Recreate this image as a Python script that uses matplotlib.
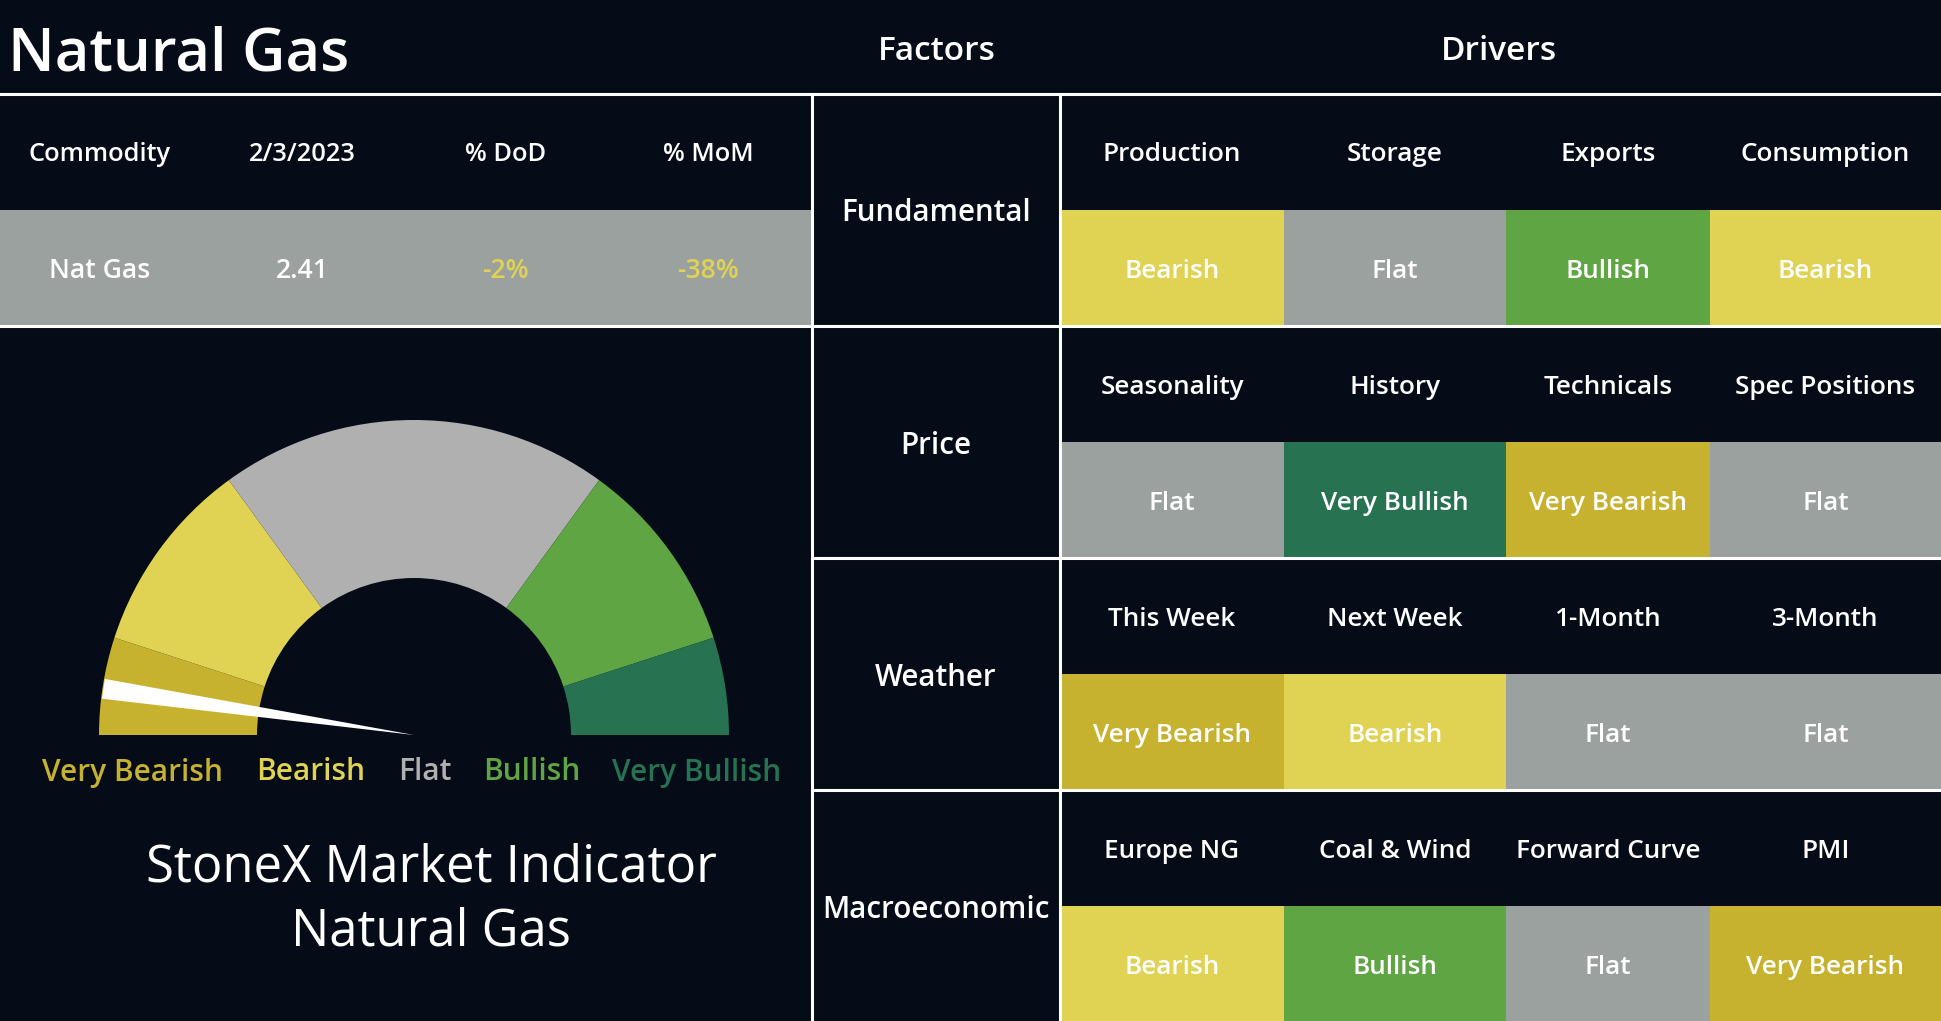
import matplotlib
matplotlib.use("Agg")
import matplotlib.pyplot as plt
from matplotlib.patches import Rectangle, Wedge, Polygon
import numpy as np

plt.rcParams['font.family'] = ['Open Sans', 'DejaVu Sans']

# ---------------- data ----------------
title = "Natural Gas"
commodity_headers = ["Commodity", "2/3/2023", "% DoD", "% MoM"]
commodity_values = ["Nat Gas", "2.41", "-2%", "-38%"]

factors = ["Fundamental", "Price", "Weather", "Macroeconomic"]
drivers = [
    ["Production", "Storage", "Exports", "Consumption"],
    ["Seasonality", "History", "Technicals", "Spec Positions"],
    ["This Week", "Next Week", "1-Month", "3-Month"],
    ["Europe NG", "Coal & Wind", "Forward Curve", "PMI"],
]
signals = [
    ["Bearish", "Flat", "Bullish", "Bearish"],
    ["Flat", "Very Bullish", "Very Bearish", "Flat"],
    ["Very Bearish", "Bearish", "Flat", "Flat"],
    ["Bearish", "Bullish", "Flat", "Very Bearish"],
]

gauge_labels = ["Very Bearish", "Bearish", "Flat", "Bullish", "Very Bullish"]
gauge_sizes = [1, 2, 4, 2, 1]
needle_value = 0.47   # on the 0..10 gauge scale

# ---------------- styles ----------------
BG = "#050c18"
cell_colors = {"Very Bearish": "#c6b22e", "Bearish": "#e0d353", "Flat": "#9aa19f",
               "Bullish": "#5fa544", "Very Bullish": "#277351"}
gauge_colors = ["#c6b22e", "#e0d353", "#b0b0b0", "#5fa544", "#277351"]
label_colors = ["#c6b22e", "#e0d353", "#b0b0b0", "#5fa544", "#277351"]

W, H = 1941, 1021
fig = plt.figure(figsize=(W / 100, H / 100), dpi=100, facecolor=BG)
ax = fig.add_axes([0, 0, 1, 1])
ax.set_xlim(0, W)
ax.set_ylim(0, H)
ax.axis("off")
ax.set_facecolor(BG)

def Y(y):
    return H - y

def rect(x0, y0, x1, y1, color):
    ax.add_patch(Rectangle((x0, Y(y1)), x1 - x0, y1 - y0, facecolor=color, edgecolor="none", zorder=1))

def txt(x, y, s, size, color="white", weight="semibold", ha="center"):
    ax.text(x, Y(y), s, fontsize=size, color=color, fontweight=weight, ha=ha, va="center_baseline", zorder=5)

# title row
txt(8, 48, title, 43, weight="semibold", ha="left")
txt(937, 48, "Factors", 24)
txt(1499, 48, "Drivers", 24)

# left commodity table
left_w = 812
col_w = left_w / 4
rect(0, 210, left_w, 326, "#9aa19f")
for i, (h, v) in enumerate(zip(commodity_headers, commodity_values)):
    cx = col_w * (i + 0.5)
    txt(cx - 2, 152, h, 18.3)
    vc = "white"
    if v.startswith("-") and i >= 2:
        vc = "#e0d353"
    txt(cx - 2, 268, v, 19.2, color=vc)

# right table
row_top = [94, 326, 558, 790]
bx = [1060, 1284, 1506, 1710, 1941]
for r, fac in enumerate(factors):
    y0 = row_top[r]
    txt(936, y0 + 116, fac, 21.3)
    for c in range(4):
        x0, x1 = bx[c], bx[c + 1]
        cx = (x0 + x1) / 2
        txt(cx, y0 + 58, drivers[r][c], 18.8)
        rect(x0, y0 + 116, x1, y0 + 232, cell_colors[signals[r][c]])
        txt(cx, y0 + 174, signals[r][c], 18.8)

# grid lines
lw = 2.2
ax.plot([0, W], [Y(94), Y(94)], color="white", lw=lw, zorder=6)
ax.plot([0, W], [Y(326), Y(326)], color="white", lw=lw, zorder=6)
for yy in [558, 790]:
    ax.plot([812, W], [Y(yy), Y(yy)], color="white", lw=lw, zorder=6)
for xx in [812, 1060]:
    ax.plot([xx, xx], [Y(94), 0], color="white", lw=lw, zorder=6)

# gauge
cx, cy = 414, Y(735)
R, r_in = 315, 157
total = sum(gauge_sizes)
start = 180.0
for size, col in zip(gauge_sizes, gauge_colors):
    span = 180.0 * size / total
    ax.add_patch(Wedge((cx, cy), R, start - span, start, width=R - r_in,
                       facecolor=col, edgecolor="none", zorder=2))
    start -= span

ang = np.deg2rad(180.0 - 180.0 * needle_value / total)
half = 10
bxp = cx + (R - 1) * np.cos(ang)
byp = cy + (R - 1) * np.sin(ang)
px, py = -np.sin(ang), np.cos(ang)
ax.add_patch(Polygon([[cx, cy], [bxp + half * px, byp + half * py], [bxp - half * px, byp - half * py]],
                     closed=True, facecolor="white", edgecolor="none", zorder=3))

label_x = [132, 311, 425, 532, 697]
for lx, lab, col in zip(label_x, gauge_labels, label_colors):
    txt(lx, 769, lab, 21.5, color=col)

txt(431, 862, "StoneX Market Indicator", 36.5, weight="normal")
txt(431, 926, "Natural Gas", 36.5, weight="normal")

fig.savefig("out.png", dpi=100, facecolor=BG)
